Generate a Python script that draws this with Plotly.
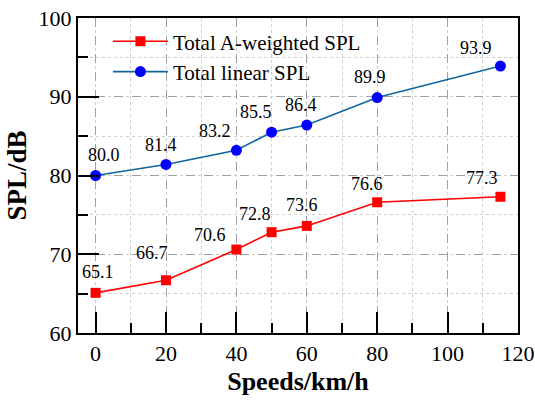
import plotly.graph_objects as go

speeds = [0, 20, 40, 50, 60, 80, 115]
spl_a = [65.1, 66.7, 70.6, 72.8, 73.6, 76.6, 77.3]
spl_lin = [80.0, 81.4, 83.2, 85.5, 86.4, 89.9, 93.9]
series_names = ["Total A-weighted SPL", "Total linear SPL"]
x_ticks = [0, 20, 40, 60, 80, 100, 120]
y_ticks = [60, 70, 80, 90, 100]

# label offsets (px) relative to each point
off_a = [(2, 21), (-14, 27), (-26, 15), (-17, 18), (-5, 21), (-10, 18), (-18, 19)]
off_lin = [(8, 21), (-5, 19), (-21, 19), (-16, 20), (-6, 20), (-7, 21), (-24, 18)]

FONT = "Liberation Serif"

fig = go.Figure()
fig.add_trace(go.Scatter(
    x=speeds, y=spl_a, mode="lines+markers", name=series_names[0],
    line=dict(color="#ff0000", width=1.6),
    marker=dict(symbol="square", size=10, color="#ff0000"),
))
fig.add_trace(go.Scatter(
    x=speeds, y=spl_lin, mode="lines+markers", name=series_names[1],
    line=dict(color="#10679f", width=1.6),
    marker=dict(symbol="circle", size=11, color="#0000ff"),
))

annotations = []
for xs, ys, offs in ((speeds, spl_a, off_a), (speeds, spl_lin, off_lin)):
    for xv, yv, (dx, dy) in zip(xs, ys, offs):
        annotations.append(dict(
            x=xv, y=yv, text=f"{yv:.1f}", showarrow=False,
            xshift=dx, yshift=dy, xanchor="center", yanchor="middle",
            font=dict(family=FONT, size=18, color="black"),
        ))

axis_common = dict(
    showline=True, linecolor="black", linewidth=2, mirror=True,
    ticks="inside", ticklen=21, tickwidth=2, tickcolor="black",
    showgrid=True, gridcolor="#a0a0a0", gridwidth=1, griddash="dash",
    zeroline=False, automargin=False,
    tickfont=dict(family=FONT, size=22, color="black"),
)

fig.update_layout(
    width=535, height=400,
    margin=dict(l=78, r=17, t=18, b=67, autoexpand=False),
    paper_bgcolor="white", plot_bgcolor="white",
    font=dict(family=FONT, color="black"),
    showlegend=True,
    legend=dict(
        x=0.068, y=0.99, xanchor="left", yanchor="top",
        bgcolor="rgba(0,0,0,0)", borderwidth=0,
        font=dict(family=FONT, size=21, color="black"),
        itemwidth=55, tracegroupgap=0,
    ),
    annotations=annotations,
)
fig.update_xaxes(
    range=[-5, 120], tickvals=x_ticks, **axis_common,
    minor=dict(dtick=10, tick0=0, ticks="inside", ticklen=10, tickwidth=2,
               tickcolor="black", showgrid=True, gridcolor="#cfcfcf",
               griddash="dot", gridwidth=1),
    title=dict(text="<b>Speeds/km/h</b>", font=dict(family=FONT, size=26, color="black"), standoff=6),
)
fig.update_yaxes(
    range=[60, 100], tickvals=y_ticks, **axis_common,
    minor=dict(dtick=5, tick0=60, ticks="inside", ticklen=10, tickwidth=2,
               tickcolor="black", showgrid=True, gridcolor="#cfcfcf",
               griddash="dot", gridwidth=1),
    title=dict(text="<b>SPL/dB</b>", font=dict(family=FONT, size=27, color="black"), standoff=4),
)

fig.write_html("out.html")
